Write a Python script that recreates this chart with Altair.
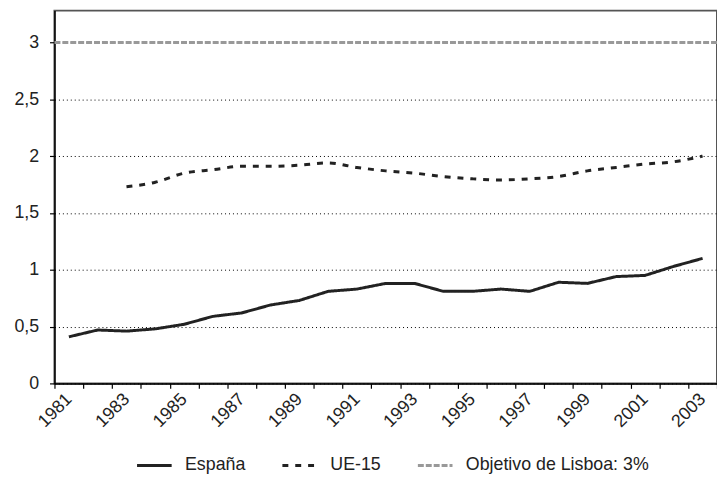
import altair as alt
import pandas as pd

years = list(range(1981, 2004))
espana = [0.41, 0.47, 0.46, 0.48, 0.52, 0.59, 0.62, 0.69, 0.73, 0.81, 0.83, 0.88,
          0.88, 0.81, 0.81, 0.83, 0.81, 0.89, 0.88, 0.94, 0.95, 1.03, 1.10]
ue15_years = list(range(1983, 2004))
ue15 = [1.73, 1.77, 1.85, 1.88, 1.91, 1.91, 1.92, 1.94, 1.90, 1.87, 1.85, 1.82,
        1.80, 1.79, 1.80, 1.82, 1.87, 1.90, 1.93, 1.95, 2.00]
lisboa_target = [3]

series_names = ["España", "UE-15", "Objetivo de Lisboa: 3%"]
series_colors = ["#222222", "#222222", "#999999"]
series_dashes = [[1, 0], [6, 7], [6, 2]]

df_es = pd.DataFrame({"year": [str(y) for y in years], "value": espana, "serie": series_names[0]})
df_ue = pd.DataFrame({"year": [str(y) for y in ue15_years], "value": ue15, "serie": series_names[1]})
df_li = pd.DataFrame({"value": lisboa_target, "serie": series_names[2]})

FONT = "Liberation Sans"

x_enc = alt.X(
    "year:O",
    sort=[str(y) for y in years],
    scale=alt.Scale(type="band", domain=[str(y) for y in years], paddingInner=0, paddingOuter=0),
    axis=alt.Axis(
        title=None,
        tickBand="extent",
        labelAngle=-45,
        labelAlign="right",
        labelBaseline="middle",
        labelExpr="toNumber(datum.value) % 2 == 1 ? datum.label : ''",
        tickSize=5,
        labelPadding=8,
        grid=False,
    ),
)
y_enc = alt.Y(
    "value:Q",
    scale=alt.Scale(domain=[0, 3.28], nice=False),
    axis=alt.Axis(
        title=None,
        values=[0, 0.5, 1, 1.5, 2, 2.5, 3],
        labelExpr="replace(format(datum.value, ''), '.', ',')",
        tickSize=5,
        labelPadding=11,
        grid=True,
        gridColor="#000000",
        gridDash=[1, 3],
        gridWidth=1,
    ),
)

legend_cfg = dict(
    title=None,
    orient="none",
    legendX=82,
    legendY=441,
    direction="horizontal",
    symbolType="stroke",
    symbolSize=1225,
    symbolStrokeWidth=3,
    labelFontSize=18,
    labelFont=FONT,
    labelColor="#222222",
    labelOffset=12,
    labelLimit=400,
    columnPadding=30,
)

color_enc = alt.Color(
    "serie:N",
    scale=alt.Scale(domain=series_names, range=series_colors),
    legend=alt.Legend(**legend_cfg),
)
dash_enc = alt.StrokeDash(
    "serie:N",
    scale=alt.Scale(domain=series_names, range=series_dashes),
    legend=alt.Legend(**legend_cfg),
)

line_es = alt.Chart(df_es).mark_line(strokeWidth=3).encode(
    x=x_enc, y=y_enc, color=color_enc, strokeDash=dash_enc
)
line_ue = alt.Chart(df_ue).mark_line(strokeWidth=3, interpolate="monotone").encode(
    x=x_enc, y=y_enc, color=color_enc, strokeDash=dash_enc
)
rule_li = alt.Chart(df_li).mark_rule(strokeWidth=3).encode(
    y=y_enc, color=color_enc, strokeDash=dash_enc
)

chart = (
    alt.layer(rule_li, line_ue, line_es)
    .properties(
        width=670,
        height=377,
        autosize=alt.AutoSizeParams(type="none"),
        padding={"left": 47, "top": 0, "right": 0, "bottom": 92},
    )
    .configure_view(stroke="#555555", strokeWidth=2)
    .configure_axis(
        labelFont=FONT,
        labelFontSize=18,
        labelColor="#222222",
        domainColor="#000000",
        domainWidth=1.5,
        tickColor="#000000",
        tickWidth=1.2,
    )
)

chart.save("out.html", embed_options={"renderer": "svg", "actions": False})
